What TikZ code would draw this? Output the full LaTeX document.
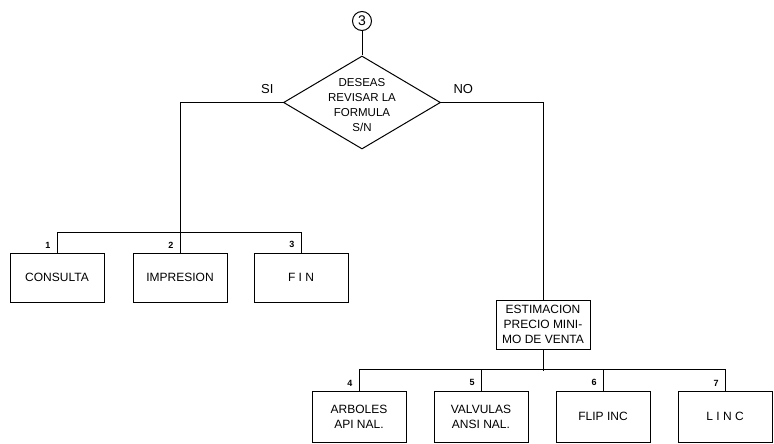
\documentclass[tikz,border=0pt]{standalone}
\usepackage{fontspec}
\setmainfont{Liberation Sans}
\usetikzlibrary{shapes.geometric,positioning}

\begin{document}
\begin{tikzpicture}[x=1pt,y=-1pt,line width=1pt,
    caja/.style={draw,minimum width=94pt,minimum height=49pt,inner sep=2pt,align=center,font=\fontsize{12}{15}\selectfont},
    num/.style={inner sep=0pt,anchor=south east,font=\fontsize{9}{10}\selectfont\bfseries},
    resp/.style={inner sep=0pt,font=\fontsize{13}{14}\selectfont}]
    \useasboundingbox (0,0) rectangle (774,444);
    % conector 3 y decision
    \node[draw,circle,minimum size=19pt,inner sep=0pt,font=\fontsize{14}{14}\selectfont] (con3) at (362,21) {3};
    \node[draw,diamond,minimum width=157pt,minimum height=93pt,inner sep=0pt] (dec) at (362,102.5) {};
    \node[align=center,font=\fontsize{11.5}{15}\selectfont] (dectxt) at (362,105) {DESEAS\\REVISAR LA\\FORMULA\\S/N};
    \draw (con3) -- (dec.north);
    \node[resp,above left=8pt and 9pt of dec.west] (si) {SI};
    \node[resp,above right=8pt and 12pt of dec.east] (no) {NO};
    % rama SI
    \node[caja] (c1) at (57,277.5) {CONSULTA};
    \node[caja] (c2) at (180,277.5) {IMPRESION};
    \node[caja] (c3) at (301,277.5) {F I N};
    \draw (dec.west) -| (c2.north);
    \draw (c1.north) -- ++(0,-20) -| (c3.north);
    \node[num] (n1) at ([xshift=-6pt,yshift=4pt]c1.north) {1};
    \node[num] (n2) at ([xshift=-6pt,yshift=4pt]c2.north) {2};
    \node[num] (n3) at ([xshift=-6pt,yshift=4pt]c3.north) {3};
    % rama NO
    \node[caja] (est) at (543,324.5) {ESTIMACION\\PRECIO MINI-\\MO DE VENTA};
    \draw (dec.east) -| (est.north);
    \draw (est.south) -- ++(0,21);
    \node[caja,minimum height=51pt] (d1) at (359,416.5) {ARBOLES\\API NAL.};
    \node[caja,minimum height=51pt] (d2) at (481,416.5) {VALVULAS\\ANSI NAL.};
    \node[caja,minimum height=51pt] (d3) at (603,416.5) {FLIP INC};
    \node[caja,minimum height=51pt] (d4) at (725,416.5) {L I N C};
    \draw (d1.north) -- ++(0,-21) -| (d4.north);
    \draw (d2.north) -- ++(0,-21);
    \draw (d3.north) -- ++(0,-21);
    \node[num] (n4) at ([xshift=-6pt,yshift=4pt]d1.north) {4};
    \node[num] (n5) at ([xshift=-6pt,yshift=4pt]d2.north) {5};
    \node[num] (n6) at ([xshift=-6pt,yshift=4pt]d3.north) {6};
    \node[num] (n7) at ([xshift=-6pt,yshift=4pt]d4.north) {7};
\end{tikzpicture}
\end{document}
